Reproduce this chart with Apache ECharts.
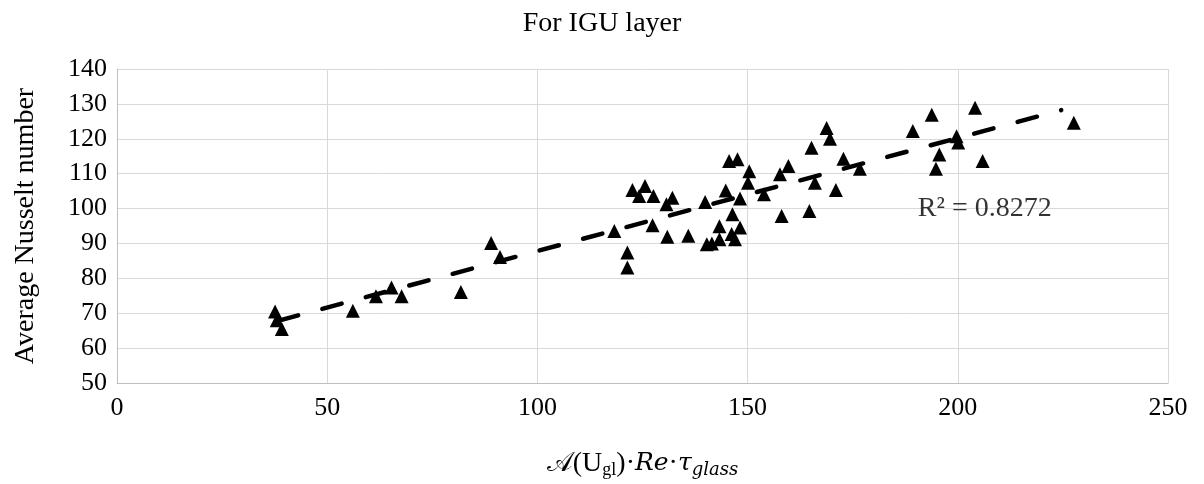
<!DOCTYPE html>
<html>
<head>
<meta charset="utf-8">
<script src="https://cdn.jsdelivr.net/npm/echarts@6/dist/echarts.min.js"></script>
<style>
html,body{margin:0;padding:0;background:#fff;}
#chart{width:1204px;height:484px;}
</style>
</head>
<body>
<div id="chart"></div>
<script>
// Data
var xVals = [37.6, 38.0, 39.2, 56.1, 61.6, 65.3, 67.7, 81.8, 89.0, 91.1,
  118.3, 121.4, 121.4, 122.6, 125.6, 124.2, 127.6, 127.4, 130.7, 132.1,
  130.9, 135.9, 139.9, 140.3, 141.5, 143.3, 143.3, 145.6, 147.6, 144.8,
  146.4, 146.2, 147.0, 148.2, 148.2, 150.4, 150.1, 153.9, 157.7, 159.7,
  158.1, 164.7, 165.2, 166.0, 168.8, 169.6, 172.8, 176.7, 171.0, 189.3,
  193.8, 195.6, 194.8, 199.7, 200.1, 204.1, 205.9, 227.6];
var yVals = [70.5, 68.0, 65.5, 70.7, 74.9, 77.4, 74.9, 76.1, 90.1, 86.1,
  93.6, 87.4, 83.1, 105.3, 106.5, 103.6, 103.6, 95.2, 101.2, 103.1,
  91.9, 92.2, 101.9, 89.8, 90.0, 94.9, 91.2, 113.6, 114.1, 105.2,
  98.4, 92.7, 91.2, 94.6, 102.9, 110.7, 107.4, 104.1, 109.8, 112.2,
  97.9, 99.3, 117.4, 107.4, 123.1, 120.0, 114.3, 111.4, 105.3, 122.2,
  126.9, 115.5, 111.4, 120.7, 118.9, 128.9, 113.6, 124.6];
var trendX = [38.5, 224.6];
var trendY = [67.9, 128.2];
var r2Text = 'R² = 0.8272';
var r2Pos = [190.5, 100];
var xTicks = [0, 50, 100, 150, 200, 250];
var yTicks = [50, 60, 70, 80, 90, 100, 110, 120, 130, 140];
var titleText = 'For IGU layer';
var yName = 'Average Nusselt number';

var FONT = '"Liberation Serif", "Times New Roman", serif';
var pts = xVals.map(function (x, i) { return [x, yVals[i]]; });
var trend = trendX.map(function (x, i) { return [x, trendY[i]]; });

var chart = echarts.init(document.getElementById('chart'), null, {renderer: 'canvas'});
chart.setOption({
  animation: false,
  backgroundColor: '#fff',
  title: {
    text: titleText, left: 'center', top: 5,
    textStyle: {fontFamily: FONT, fontWeight: 'normal', fontSize: 28, color: '#000'}
  },
  grid: {left: 117, right: 36, top: 69, bottom: 100, containLabel: false},
  xAxis: {
    type: 'value', min: xTicks[0], max: xTicks[xTicks.length - 1], interval: 50,
    name: '{a|𝒜}(U{sub|gl})·{i|Re}·{i|τ}{isub|glass}',
    nameLocation: 'middle', nameGap: 65,
    nameTextStyle: {
      fontFamily: FONT, fontSize: 28, color: '#000',
      rich: {
        a: {fontFamily: 'DejaVu Serif, serif', fontSize: 27},
        sub: {fontFamily: FONT, fontSize: 18, padding: [13, 0, 0, 0]},
        i: {fontFamily: 'DejaVu Serif, serif', fontSize: 25, fontStyle: 'italic'},
        isub: {fontFamily: 'DejaVu Serif, serif', fontSize: 18, fontStyle: 'italic', padding: [13, 0, 0, 0]}
      }
    },
    axisLine: {lineStyle: {color: '#bfbfbf', width: 1}},
    axisTick: {show: false},
    axisLabel: {fontFamily: FONT, fontSize: 26, color: '#000', margin: 12},
    splitLine: {show: true, lineStyle: {color: '#d9d9d9', width: 1}}
  },
  yAxis: {
    type: 'value', min: yTicks[0], max: yTicks[yTicks.length - 1], interval: 10,
    name: yName, nameLocation: 'middle', nameGap: 77,
    nameTextStyle: {fontFamily: FONT, fontSize: 28, color: '#000'},
    axisLine: {show: true, lineStyle: {color: '#bfbfbf', width: 1}},
    axisTick: {show: false},
    axisLabel: {fontFamily: FONT, fontSize: 26, color: '#000', margin: 10},
    splitLine: {show: true, lineStyle: {color: '#d9d9d9', width: 1}}
  },
  series: [
    {
      type: 'line', data: trend, showSymbol: false, symbol: 'none', z: 1,
      lineStyle: {color: '#000', width: 4.5, type: [20, 25], cap: 'round'}
    },
    {
      type: 'scatter', data: pts, symbol: 'triangle', symbolSize: [14, 14], z: 3,
      itemStyle: {color: '#000', opacity: 1}
    },
    {
      type: 'scatter', data: [r2Pos], symbolSize: 0, z: 4, silent: true,
      label: {show: true, position: 'right', distance: 0, formatter: r2Text,
        fontFamily: FONT, fontSize: 28, color: '#000'}
    }
  ]
});
</script>
</body>
</html>
